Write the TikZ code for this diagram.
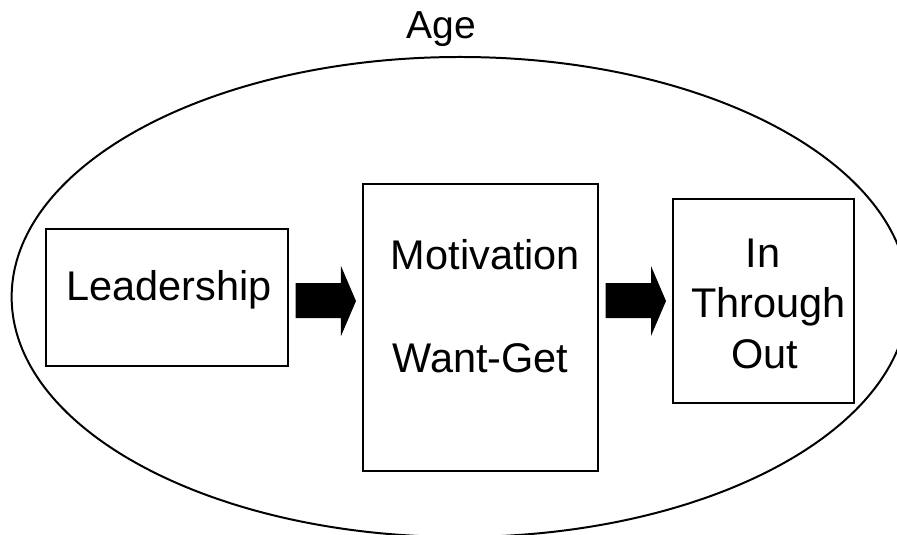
\documentclass[tikz,border=0pt]{standalone}
\usepackage{fontspec}
\setmainfont{Liberation Sans}
\usepackage{tikz}
\usetikzlibrary{calc}
\usetikzlibrary{shapes.geometric}

\tikzset{
  box/.style={draw=black, line width=1.7pt, rectangle, inner sep=0pt, outer sep=0pt},
  lbl/.style={font=\fontsize{35.4}{42}\selectfont, inner sep=0pt, anchor=base},
}

% block arrow from the east side of #1 to the west side of #2
\newcommand{\blockarrow}[2]{%
  \fill ($(#1.east |- 0,283)+(7.5,0)$) -- ($(#2.west |- 0,283)+(-22,0)$)
     -- ($(#2.west |- 0,266)+(-22,0)$) -- ($(#2.west |- 0,301)+(-7,0)$)
     -- ($(#2.west |- 0,336)+(-22,0)$) -- ($(#2.west |- 0,318)+(-22,0)$)
     -- ($(#1.east |- 0,318)+(7.5,0)$) -- cycle;}

\begin{document}
\begin{tikzpicture}[x=0.03cm, y=-0.03cm]
            \clip (0,0) rectangle (897,535);
            \fill[white] (0,0) rectangle (897,535);

            % The big ellipse and its title
            \node[draw=black, line width=1.7pt, ellipse, inner sep=0pt,
                  minimum width=26.9cm, minimum height=14.4cm] (ring) at (460,297) {};
            \node[lbl, font=\fontsize{33.3}{40}\selectfont] (age) at (441,39) {Age};

            % The boxes
            \node[box, minimum width=7.26cm, minimum height=4.11cm] (lead) at (167,297.5) {};
            \node[box, minimum width=7.05cm, minimum height=8.61cm] (motiv) at (480.5,327.5) {};
            \node[box, minimum width=5.43cm, minimum height=6.12cm] (flow) at (763.5,301) {};

            % The texts
            \node[lbl] (leadtxt) at (169,300) {Leadership};
            \node[lbl] (motivtxt) at (485.5,269) {Motivation};
            \node[lbl] (wanttxt) at (480.5,372) {Want-Get};
            \node[lbl] (intxt) at (763,267) {In};
            \node[lbl] (throughtxt) at (768.5,317) {Through};
            \node[lbl] (outtxt) at (764.5,368) {Out};

            % The arrows!
            \blockarrow{lead}{motiv}
            \blockarrow{motiv}{flow}
\end{tikzpicture}
\end{document}
